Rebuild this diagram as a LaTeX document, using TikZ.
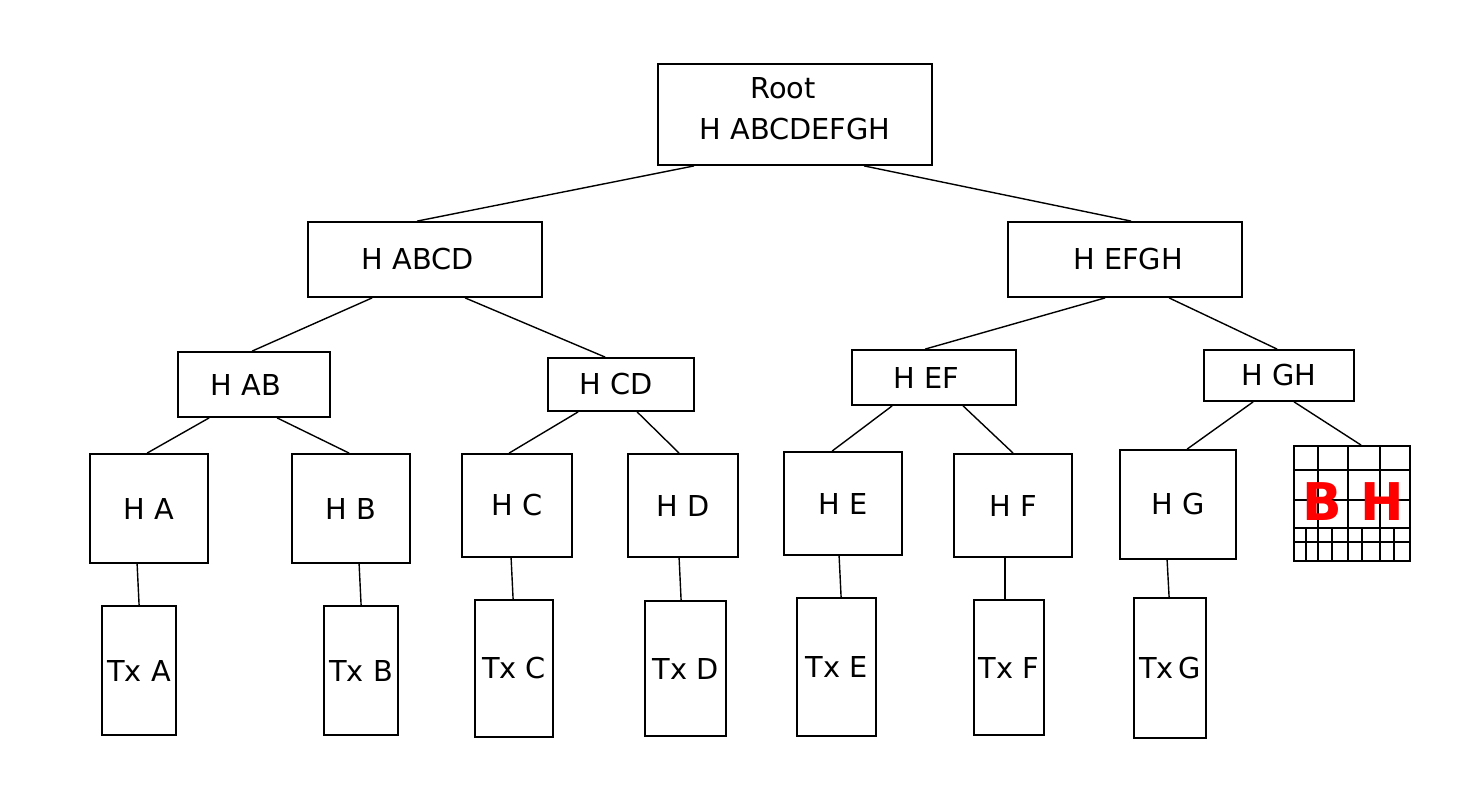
\documentclass[tikz,border=0pt]{standalone}
\usepackage{fontspec}
\setmainfont{DejaVu Sans}
\usepackage{tikz}
\usetikzlibrary{positioning}

\tikzset{
    hbox/.style={draw, line width=1.8pt, inner sep=0pt, font=\fontsize{28.8}{41}\selectfont},
    link/.style={line width=1.4pt}
}

\begin{document}
\begin{tikzpicture}[x=1pt, y=-1pt]
    \useasboundingbox (0,0) rectangle (1480,788);

    % hash tree
    \node[hbox, minimum width=274pt, minimum height=101pt, align=center, text depth=12pt] (root) at (795,114.5)
        {Root\hspace*{24pt}\\H ABCDEFGH};

    \foreach \n/\x/\y/\w/\h/\t in {
        habcd/425/259.5/234/75/H ABCD\hspace*{14pt}, hefgh/1125/259.5/234/75/\hspace*{6pt}H EFGH,
        hab/254/384.5/152/65/H AB\hspace*{16pt}, hcd/621/384.5/146/53/H CD\hspace*{10pt},
        hef/934/377.5/164/55/H EF\hspace*{16pt}, hgh/1279/375.5/150/51/H GH,
        ha/149/508.5/118/109/H A, hb/351/508.5/118/109/H B,
        hc/517/505.5/110/103/H C, hd/683/505.5/110/103/H D,
        he/843/503.5/118/103/H E, hf/1013/505.5/118/103/H F,
        hg/1178/504.5/116/109/H G,
        txa/139/670.5/74/129/Tx A, txb/361/670.5/74/129/Tx B,
        txc/514/668.5/78/137/Tx C, txd/685.5/668.5/81/135/Tx D,
        txe/836.5/667/79/138/Tx E, txf/1009/667.5/70/135/Tx F,
        txg/1170/668/72/140/Tx\,G}
        \node[hbox, minimum width=\w pt, minimum height=\h pt] (\n) at (\x,\y) {\t};

    % block header
    \node[hbox, minimum width=116pt, minimum height=115pt] (bh) at (1352,503.5) {};
    \foreach \y in {470,500,528,542} \draw[line width=1.5pt] (1294,\y) -- (1410,\y);
    \foreach \x in {1318,1348,1380} \draw[line width=1.5pt] (\x,446) -- (\x,561);
    \foreach \x in {1306,1332,1362,1394} \draw[line width=1.5pt] (\x,528) -- (\x,561);
    \node[text=red, font=\fontsize{52}{60}\selectfont\bfseries] (bhtxt) at (1353,502) {B H};

    \foreach \a/\da/\b/\db in {
        root/37/habcd/110, root/207/hefgh/124,
        habcd/65/hab/75, habcd/158/hcd/58,
        hefgh/98/hef/74, hefgh/162/hgh/74,
        hab/32/ha/58, hab/100/hb/58, hcd/31/hc/48, hcd/90/hd/52,
        hef/41/he/49, hef/112/hf/60, hgh/50/hg/68, hgh/91/bh/68,
        ha/48/txa/38, hb/68/txb/38, hc/50/txc/39, hd/52/txd/37,
        he/56/txe/45, hf/52/txf/32, hg/48/txg/36}
        \draw[link] ([xshift=\da pt]\a.south west) -- ([xshift=\db pt]\b.north west);
\end{tikzpicture}
\end{document}
